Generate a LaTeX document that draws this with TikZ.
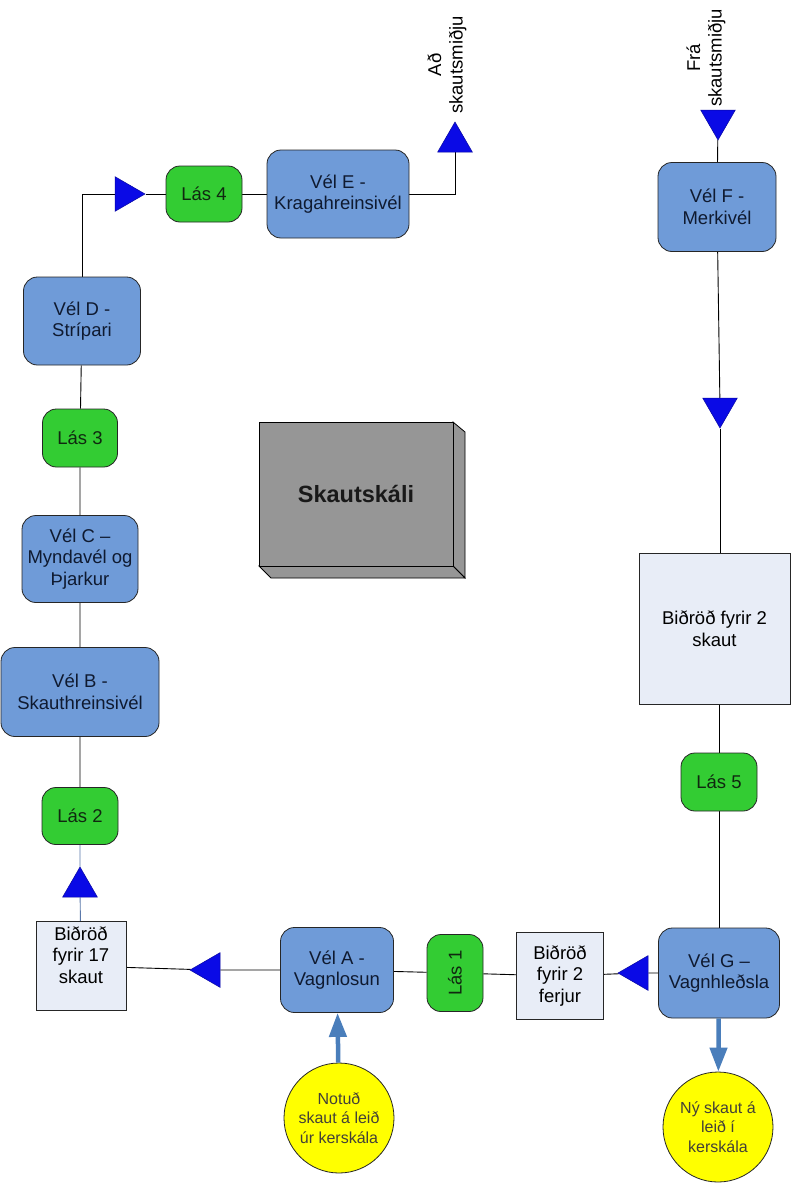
\documentclass[tikz,border=0pt]{standalone}
\usepackage{fontspec}
\setmainfont{Liberation Sans}
\usetikzlibrary{shapes.geometric,arrows.meta,backgrounds}
\definecolor{velblue}{RGB}{111,155,216}
\definecolor{lasgreen}{RGB}{51,204,51}
\definecolor{queuefill}{RGB}{232,237,247}
\definecolor{skaligray}{RGB}{150,150,150}
\definecolor{triblue}{RGB}{10,10,230}
\definecolor{circyellow}{RGB}{255,255,0}
\definecolor{thickblue}{RGB}{74,126,187}
\definecolor{navytext}{RGB}{15,26,48}
\definecolor{greentext}{RGB}{16,40,16}
\definecolor{steelline}{RGB}{90,120,170}
\tikzset{
  mainfont/.style={font=\fontsize{18.5}{21.5}\selectfont},
  velbox/.style={draw=black!85, line width=0.8pt, fill=velblue, rounded corners=14pt, inner sep=0pt, align=center, text=navytext, mainfont},
  lasbox/.style={draw=black!85, line width=0.8pt, fill=lasgreen, rounded corners=14pt, inner sep=0pt, align=center, text=greentext, mainfont},
  queuebox/.style={draw=black!85, line width=0.8pt, fill=queuefill, inner sep=0pt, align=center, text=black, mainfont},
  tri/.style={regular polygon, regular polygon sides=3, minimum size=40pt, inner sep=0pt, fill=triblue, draw=triblue!70!black, line width=0.5pt},
  circ/.style={circle, draw=black!85, line width=0.8pt, fill=circyellow, minimum size=110pt, inner sep=0pt, align=center, text=black!85!yellow, font=\fontsize{16}{19.5}\selectfont},
  conn/.style={draw=black, line width=0.9pt},
  blueconn/.style={draw=steelline, line width=0.9pt},
  thickarrow/.style={draw=thickblue, line width=4.5pt, -{Triangle[length=24pt,width=17pt]}},
  txt/.style={align=center, text=black, mainfont}
}
\begin{document}
\begin{tikzpicture}[x=1pt,y=-1pt]
\useasboundingbox (0,0) rectangle (791,1191);

% Skautskali box
\draw[fill=skaligray, draw=black, line width=0.8pt] (453,422) -- (465,432) -- (465,578) -- (453,566) -- cycle;
\draw[fill=skaligray, draw=black, line width=0.8pt] (259,566) -- (271,578) -- (465,578) -- (453,566) -- cycle;
\node[draw=black, line width=0.8pt, fill=skaligray, minimum width=194pt, minimum height=144pt, inner sep=0pt, font=\fontsize{23.5}{27}\selectfont\bfseries, text=black!90] (skali) at (356,494) {Skautskáli};

% Machines
\node[velbox, minimum width=113pt, minimum height=85pt] (velA) at (337,970) {Vél A -\\Vagnlosun};
\node[velbox, minimum width=158pt, minimum height=89pt] (velB) at (80,692) {Vél B -\\Skauthreinsivél};
\node[velbox, minimum width=116pt, minimum height=87pt] (velC) at (80,559) {Vél C –\\Myndavél og\\Þjarkur};
\node[velbox, minimum width=117pt, minimum height=88pt] (velD) at (82,321) {Vél D -\\Strípari};
\node[velbox, minimum width=142pt, minimum height=88pt] (velE) at (338,194) {Vél E -\\Kragahreinsivél};
\node[velbox, minimum width=118pt, minimum height=89pt] (velF) at (717,207) {Vél F -\\Merkivél};
\node[velbox, minimum width=121pt, minimum height=90pt] (velG) at (719,973) {Vél G –\\Vagnhleðsla};

% Locks
\node[lasbox, minimum width=77pt, minimum height=56pt, rotate=90] (las1) at (455,973) {Lás 1};
\node[lasbox, minimum width=76pt, minimum height=57pt] (las2) at (80,816) {Lás 2};
\node[lasbox, minimum width=75pt, minimum height=58pt] (las3) at (80,438) {Lás 3};
\node[lasbox, minimum width=76pt, minimum height=56pt] (las4) at (204,194) {Lás 4};
\node[lasbox, minimum width=76pt, minimum height=58pt] (las5) at (719,782) {Lás 5};

% Queues
\node[queuebox, minimum width=90pt, minimum height=89pt] (bid17) at (81,966) {};
\node[txt] (bid17txt) at (81,955) {Biðröð\\fyrir 17\\skaut};
\node[queuebox, minimum width=87pt, minimum height=87pt] (bid2f) at (560,976) {Biðröð\\fyrir 2\\ferjur};
\node[queuebox, minimum width=151pt, minimum height=151pt] (bid2s) at (714.5,628.5) {Biðröð fyrir 2\\skaut};

% Triangles
\node[tri, shape border rotate=0] (triAd) at (455,142) {};
\node[tri, shape border rotate=180] (triFra) at (718,120) {};
\node[tri, shape border rotate=180] (triF) at (720,408) {};
\node[tri, shape border rotate=-90] (triR) at (125,194) {};
\node[tri, shape border rotate=90] (triG) at (638,973) {};
\node[tri, shape border rotate=90] (triA) at (210,970) {};
\node[tri, shape border rotate=0] (tri17) at (80,887) {};

% Circles
\node[circ] (notud) at (339,1118) {Notuð\\skaut á leið\\úr kerskála};
\node[circ] (ny) at (718,1127) {Ný skaut á\\leið í\\kerskála};

% Rotated labels
\node[txt, rotate=90] (adlbl) at (447,65) {Að\\skautsmiðju};
\node[txt, rotate=90] (fralbl) at (706,58) {Frá\\skautsmiðju};

% Connectors
\begin{scope}[on background layer]
\fill[white] (0,0) rectangle (791,1191);
\draw[conn] (velD) |- (triR);
\draw[conn] (triR) -- (las4) -- (velE);
\draw[conn] (velE) -| (triAd);
\draw[conn] (triFra) -- (velF) -- (triF);
\draw[conn] (triF) -- (triF |- bid2s.north);
\draw[conn] (las5 |- bid2s.south) -- (las5) -- (velG);
\draw[conn] (velG) -- (triG) -- (bid2f) -- (las1) -- (velA) -- (triA) -- (bid17);
\draw[blueconn] (bid17) -- (tri17) -- (las2);
\draw[conn] (las2) -- (velB) -- (velC) -- (las3) -- (velD);
\end{scope}
\draw[thickarrow] (notud) -- (velA);
\draw[thickarrow] (velG) -- (ny);
\end{tikzpicture}
\end{document}
